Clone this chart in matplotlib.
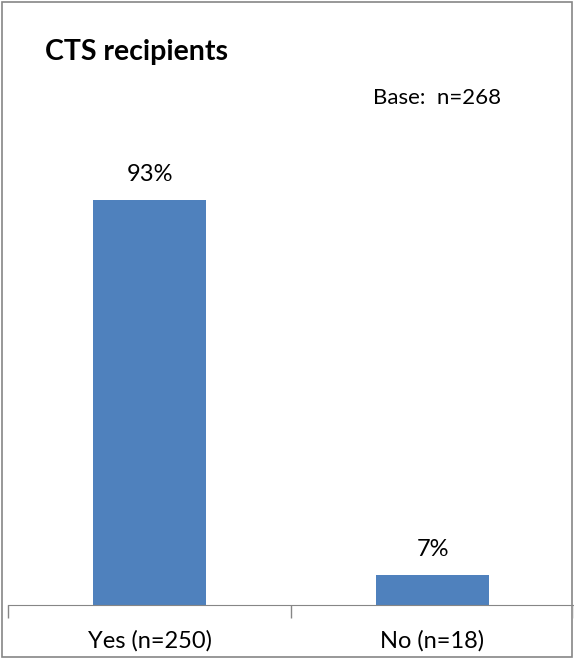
import matplotlib.pyplot as plt
from matplotlib.patches import Rectangle
from matplotlib.transforms import blended_transform_factory

categories = ["Yes (n=250)", "No (n=18)"]
percents = [93, 7]
title = "CTS recipients"
base_note = "Base:  n=268"

plt.rcParams['font.family'] = ['Lato', 'DejaVu Sans']

W, H = 574, 659
fig = plt.figure(figsize=(W / 100, H / 100), dpi=100)

# outer frame around the whole chart
fig.patches.append(Rectangle((2 / W, 2 / H), 570 / W, 655 / H, transform=fig.transFigure,
                             fill=False, edgecolor="#868686", linewidth=1.2))

ax = fig.add_axes([8 / W, (H - 605) / H, 566 / W, 435.5 / H])
x = range(len(categories))
bars = ax.bar(x, percents, width=0.4, color="#4F81BD")
ax.set_xlim(-0.5, 1.5)
ax.set_ylim(0, 100)

for b, p in zip(bars, percents):
    ax.annotate(f"{p}%", (b.get_x() + b.get_width() / 2, p), xytext=(0, 18),
                textcoords="offset points", ha="center", va="center", fontsize=17)

for s in ["top", "left", "right"]:
    ax.spines[s].set_visible(False)
ax.spines["bottom"].set_color("#868686")
ax.set_yticks([])
# category boundaries get the tick marks, names sit under the bars
ax.set_xticks([-0.5, 0.5, 1.5])
ax.set_xticklabels(["", "", ""])
ax.tick_params(axis="x", length=9, color="#868686", width=1)

trans = blended_transform_factory(ax.transData, fig.transFigure)
for i, name in zip(x, categories):
    ax.text(i, 1 - 641 / H, name, transform=trans, ha="center", va="center", fontsize=17)

fig.text(45 / W, 1 - 52 / H, title, fontsize=20.5, fontweight="bold", va="center", ha="left")
fig.text(437 / W, 1 - 98 / H, base_note, fontsize=16, va="center", ha="center")

fig.savefig("out.png", dpi=100)
